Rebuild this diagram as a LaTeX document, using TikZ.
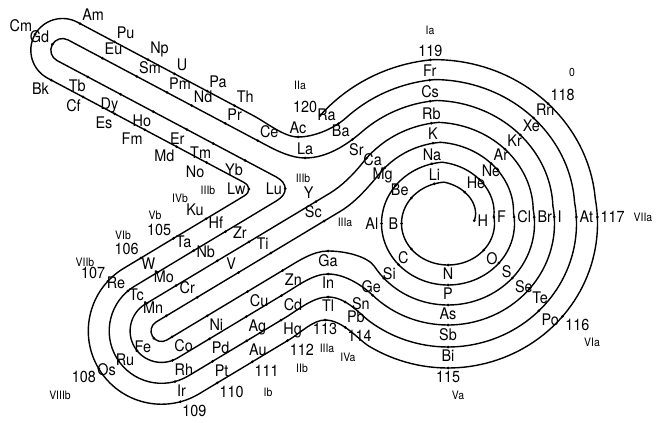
\documentclass[tikz,border=0pt]{standalone}
\usepackage{fontspec}
\setmainfont{TeX Gyre Heros}[FakeStretch=0.9]
\usepackage{tikz}
\newcommand{\elfont}{\fontsize{8}{9}\selectfont}
\newcommand{\grpfont}{\fontsize{5.8}{7}\selectfont}
\tikzset{
  track/.style={line width=0.7pt,line join=round,line cap=round},
  el/.style={circle,fill,inner sep=0pt,minimum size=1.5pt,label distance=1.2pt},
  sym/.style={font=\elfont,inner sep=0.5pt},
  grp/.style={font=\grpfont,inner sep=0pt},
}

\begin{document}
\begin{tikzpicture}[x=0.5pt,y=-0.5pt,
  declare function={ex(\p,\q)=448+(\q+2.5)*cos(\p); ey(\p,\q)=223.5-(\q-2.5)*sin(\p);}]
  \useasboundingbox (0,0) rectangle (657,422);

  \draw[track] plot[domain=8:95,samples=40,variable=\t] ({ex(\t,24+20*(\t-8)/87)},{ey(\t,24+20*(\t-8)/87)})
    -- plot[domain=95:370,samples=90,variable=\t] ({ex(\t,44)},{ey(\t,44)})
    -- plot[domain=370:455,samples=40,variable=\t] ({ex(\t,44+20*(\t-370)/85)},{ey(\t,44+20*(\t-370)/85)});

  \draw[track] plot[domain=95:370,samples=90,variable=\t] ({ex(\t,64)},{ey(\t,64)})
    -- plot[domain=370:455,samples=40,variable=\t] ({ex(\t,64+20*(\t-370)/85)},{ey(\t,64+20*(\t-370)/85)});

  \draw[track] plot[domain=95:142,samples=20,variable=\t] ({ex(\t,84)},{ey(\t,84)})
    .. controls (368.3,187.1) and (355.8,202.0) .. (340.35,211.27)
    -- (156.09,322.0) arc[start angle=239,end angle=59,radius=10.5]
    -- (285,269.03) .. controls (297.86,261.3) and (313,251) .. (328,251)
    .. controls (346,251) and (368,256.7) .. ({ex(212,84)},{ey(212,84)})
    -- plot[domain=212:370,samples=60,variable=\t] ({ex(\t,84)},{ey(\t,84)})
    -- plot[domain=370:455,samples=40,variable=\t] ({ex(\t,84+20*(\t-370)/85)},{ey(\t,84+20*(\t-370)/85)});

  \draw[track] plot[domain=95:143,samples=20,variable=\t] ({ex(\t,104)},{ey(\t,104)})
    .. controls (353.6,174.2) and (342.4,185.6) .. (329.56,193.37)
    -- (145.33,304.09) arc[start angle=239,end angle=59,radius=31.4]
    -- (285,293.41) .. controls (297.86,285.68) and (313,274) .. (328,274)
    .. controls (346,274) and (364.0,287.0) .. ({ex(225,104)},{ey(225,104)})
    -- plot[domain=225:370,samples=60,variable=\t] ({ex(\t,104)},{ey(\t,104)})
    -- plot[domain=370:455,samples=40,variable=\t] ({ex(\t,104+22*(\t-370)/85)},{ey(\t,104+22*(\t-370)/85)});

  \draw[track] plot[domain=95:132,samples=20,variable=\t] ({ex(\t,126)},{ey(\t,126)})
    .. controls (346.9,144.8) and (327,158) .. (305,158)
    .. controls (292,158) and (278.2,151.5) .. (266.7,145.4)
    -- (68.0,39.9) arc[start angle=298,end angle=118,radius=11.7]
    -- (276.3,177.0) .. controls (287.96,183.2) and (288.2,193.8) .. (276.9,200.6)
    -- (134.57,286.18) arc[start angle=239,end angle=59,radius=52.3]
    -- (285,317.79) .. controls (297.86,310.06) and (313,297) .. (328,297)
    .. controls (346,297) and (359.3,313.6) .. ({ex(232,126)},{ey(232,126)})
    -- plot[domain=232:370,samples=60,variable=\t] ({ex(\t,126)},{ey(\t,126)})
    -- plot[domain=370:455,samples=40,variable=\t] ({ex(\t,126+21*(\t-370)/85)},{ey(\t,126+21*(\t-370)/85)});

  \draw[track] plot[domain=95:133,samples=20,variable=\t] ({ex(\t,147)},{ey(\t,147)})
    .. controls (334.9,127.9) and (315,137) .. (298,137)
    .. controls (284,137) and (266.4,122.6) .. (254.0,116.0)
    -- (77.4,22.2) arc[start angle=298,end angle=118,radius=31.7]
    -- (243.6,182.25) .. controls (250.4,185.9) and (250.64,192.0) .. (244.04,196.0)
    -- (123.8,268.27) arc[start angle=239,end angle=59,radius=73.2]
    -- (290,339.17) .. controls (300.3,333.0) and (313,320) .. (325,320)
    .. controls (343,320) and (358.5,339.8) .. ({ex(238,147)},{ey(238,147)})
    -- plot[domain=238:370,samples=60,variable=\t] ({ex(\t,147)},{ey(\t,147)})
    -- plot[domain=370:455,samples=40,variable=\t] ({ex(\t,147+20*(\t-370)/85)},{ey(\t,147+20*(\t-370)/85)});

  \draw[track] plot[domain=95:139,samples=20,variable=\t] ({ex(\t,167)},{ey(\t,167)});

  \node[el,label={[sym]0:H}] (H) at ({ex(8,24)},{ey(8,24)}) {};
  \node[el,label={[sym]70:He}] (He) at ({ex(65,37.1)},{ey(65,37.1)}) {};
  \foreach \pa/\pr/\pn/\pl in {107/44/Li/90,142/44/Be/140,180/44/B/180,218/44/C/218,270/44/N/270,
      320/44/O/320,9/44/F/0,57/55.06/Ne/57,
      104/64/Na/90,142/64/Mg/140,180/64/Al/180,222/64/Si/222,270/64/P/270,320/64/S/320,6/64/Cl/0,56/74.8/Ar/56,
      100/84/K/90,137/84/Ca/140,222/84/Ge/222,270/84/As/270,318/84/Se/318,4.5/84/Br/0,54/94.4/Kr/54,
      99/104/Rb/90,140/104/Sr/140,225/104/Sn/215,270/104/Sb/270,320/104/Te/320,3.7/104/I/0,52/114.9/Xe/52,
      98/126/Cs/90,270/126/Bi/270,315/126/Po/315,3/126/At/0,52/136.4/Rn/52,
      97/147/Fr/90,270/147/115/270,320/147/116/320,2.6/147/117/0,51/156.6/118/51,
      96/167/119/90,139/167/120/140}
    \node[el,label={[sym]\pl:\pn}] (\pn) at ({ex(\pa,\pr)},{ey(\pa,\pr)}) {};

  \foreach \px/\py/\pn/\pl in {80.0/23.6/Am/62,114.5/41.9/Pu/62,148.0/59.7/Np/62,174.5/73.8/U/62,
      207.2/91.1/Pa/62,234.6/105.7/Th/62,35.07/34.34/Cm/150,
      51.2/80.1/Bk/242,82.96/96.94/Cf/242,114.7/113.8/Es/242,144.8/129.8/Fm/242,176.6/146.7/Md/242,206.6/162.6/No/242,
      102.4/58.2/Eu/62,136.9/76.5/Sm/62,166.9/92.4/Pm/62,191.6/105.6/Nd/62,225.2/123.4/Pr/62,257.8/140.7/Ce/62,
      52.4/44.3/Gd/175,
      87.9/77.0/Tb/242,120.6/94.3/Dy/242,153.3/111.7/Ho/242,186.8/129.5/Er/242,213.3/143.6/Tm/242,245.1/160.5/Yb/242,
      285.2/188.6/Lu/180,248.8/189.0/Lw/180,
      140.9/258.0/106/121,173.5/238.4/105/121,206.1/218.8/Ku/121,107.96/281.08/107/137,
      157.7/272.3/W/121,193.7/250.7/Ta/121,225.4/231.6/Hf/121,127.9/290.9/Re/140,
      147.0/303.1/Tc/160,176.2/285.5/Mo/121,217.3/260.8/Nb/121,249.0/241.8/Zr/121,315.9/201.6/Y/121,
      166.4/315.8/Mn/165,197.2/297.3/Cr/121,238.4/272.6/V/121,270.9/253.0/Ti/121,324.1/221.1/Sc/121,
      153.9/338.3/Fe/224,137.1/350.8/Ru/219,118.7/361.0/Os/215,98.8/368.7/108/211,
      172.0/336.9/Co/301,172.4/360.45/Rh/295,175.0/381.5/Ir/290,180.4/401.7/109/290,
      207.2/315.8/Ni/301,247.5/291.6/Cu/301,282.6/270.5/Zn/301,
      209.4/338.9/Pd/301,246.2/316.7/Ag/301,281.4/295.6/Cd/301,
      212.4/361.4/Pt/301,246.7/340.8/Au/301,281.0/320.2/Hg/301,
      217.2/382.9/110/301,252.3/361.8/111/301,287.5/340.7/112/301,
      328/251/Ga/270,328/274/In/270,328/297/Tl/270,325/320/113/270,
      352.4/139.5/Ba/140,338.4/123.7/Ra/140,305/158/La/90,298/137/Ac/90,
      345.2/327.4/114/300}
    \node[el,label={[sym]\pl:\pn}] (\pn) at (\px,\py) {};
  \node[el,label={[sym,yshift=-3pt]285:Pb}] (Pb) at (345.2,302.0) {};

  \foreach \gx/\gy/\gn/\gt in {430/30/Ia/Ia,300/85/IIa/IIa,303/178/IIIb-1/IIIb,208/190/IIIb-2/IIIb,
      180/198/IVb/IVb,155/215/Vb/Vb,123/235/VIb/VIb,85/262/VIIb/VIIb,60/395/VIIIb/VIIIb,
      268/392/Ib/Ib,302/368/IIb/IIb,327/348/IIIa-1/IIIa,345/222/IIIa-2/IIIa,348/357/IVa/IVa,
      458/395/Va/Va,592/342/VIa/VIa,643/217/VIIa/VIIa,572/72/zero/0}
    \node[grp] (g-\gn) at (\gx,\gy) {\gt};
\end{tikzpicture}
\end{document}
